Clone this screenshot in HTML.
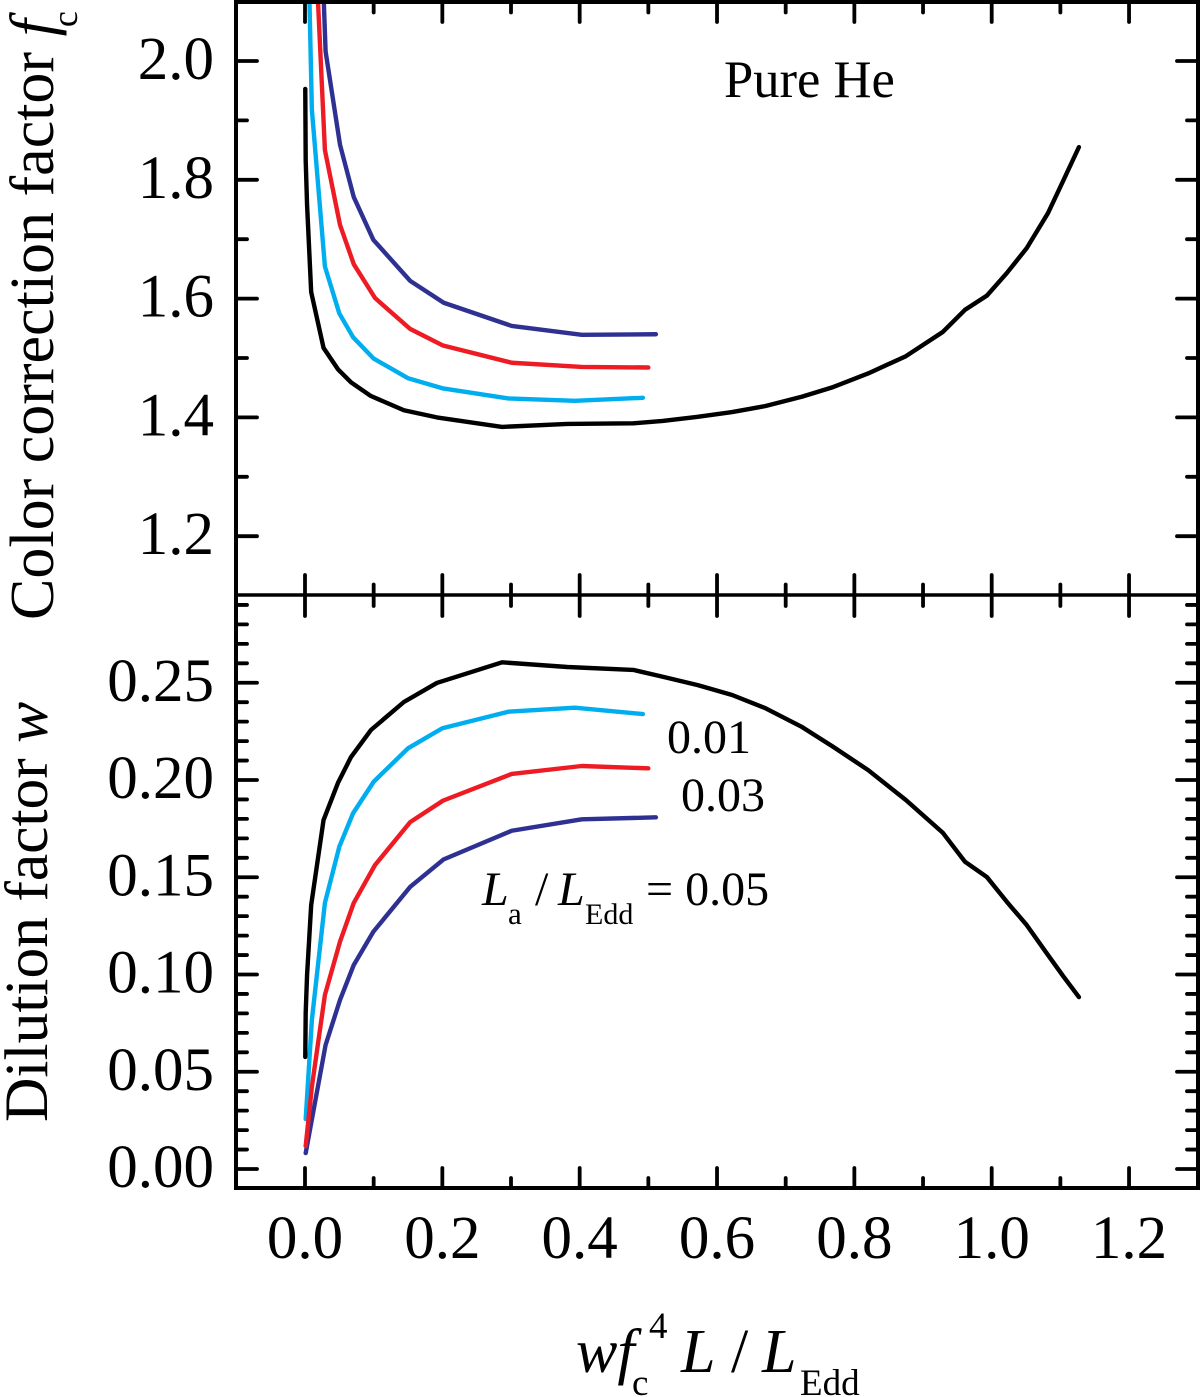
<!DOCTYPE html>
<html lang="en">
<head>
<meta charset="utf-8">
<title>Color correction and dilution factors, Pure He</title>
<style>
html,body{margin:0;padding:0;background:#fff;}
svg{display:block;}
text{font-family:"Liberation Serif",serif;fill:#000;}
</style>
</head>
<body>
<svg id="chart" xmlns="http://www.w3.org/2000/svg" width="1200" height="1397" viewBox="0 0 1200 1397">
  <defs>
    <clipPath id="clip-top"><rect x="236" y="0" width="962" height="595"></rect></clipPath>
    <clipPath id="clip-bottom"><rect x="236" y="595" width="962" height="593"></rect></clipPath>
  </defs>
  <g id="marks-top" clip-path="url(#clip-top)"></g>
  <g id="marks-bottom" clip-path="url(#clip-bottom)"></g>
  <g id="axes"></g>

  <text transform="translate(53,620) rotate(-90)" font-size="62">Color correction factor <tspan font-style="italic">f</tspan><tspan font-size="36" dy="24" dx="-8">c</tspan></text>
  <text transform="translate(47,1122) rotate(-90)" font-size="61.5">Dilution factor <tspan font-style="italic">w</tspan></text>

  <text x="724" y="97" font-size="52.6">Pure He</text>
  <text x="667" y="753" font-size="48">0.01</text>
  <text x="681" y="811" font-size="48">0.03</text>
  <g>
    <text x="482" y="905" font-size="48" font-style="italic">L</text>
    <text x="508" y="924" font-size="31">a</text>
    <text x="535" y="905" font-size="48">/</text>
    <text x="558" y="905" font-size="48" font-style="italic">L</text>
    <text x="585" y="924" font-size="30">Edd</text>
    <text x="646" y="905" font-size="48">= 0.05</text>
  </g>
  <g>
    <text x="576" y="1372" font-size="62" font-style="italic">wf</text>
    <text x="632" y="1395" font-size="37">c</text>
    <text x="649" y="1338" font-size="37">4</text>
    <text x="681" y="1372" font-size="62" font-style="italic">L</text>
    <text x="731" y="1372" font-size="62">/</text>
    <text x="762" y="1372" font-size="62" font-style="italic">L</text>
    <text x="800" y="1395" font-size="37">Edd</text>
  </g>
</svg>
<script>
// x axis ticks
var xMajorTicks = [0.0, 0.2, 0.4, 0.6, 0.8, 1.0, 1.2];
var xMinorTicks = [0.1, 0.3, 0.5, 0.7, 0.9, 1.1];
var xTickLabels = ['0.0', '0.2', '0.4', '0.6', '0.8', '1.0', '1.2'];

// top panel ticks
var fcMajorTicks = [2.0, 1.8, 1.6, 1.4, 1.2];
var fcMinorTicks = [1.9, 1.7, 1.5, 1.3];
var fcTickLabels = ['2.0', '1.8', '1.6', '1.4', '1.2'];

// bottom panel ticks
var wMajorTicks = [0.25, 0.20, 0.15, 0.10, 0.05, 0.00];
var wMinorTicks = [0.29, 0.28, 0.27, 0.26, 0.24, 0.23, 0.22, 0.21, 0.19, 0.18, 0.17, 0.16, 0.14, 0.13, 0.12, 0.11, 0.09, 0.08, 0.07, 0.06, 0.04, 0.03, 0.02, 0.01];
var wTickLabels = ['0.25', '0.20', '0.15', '0.10', '0.05', '0.00'];

// La/LEdd = 0 (black)
var blackX = [0.0004, 0.001, 0.003, 0.009, 0.027, 0.048, 0.067, 0.096, 0.144, 0.192, 0.287, 0.382, 0.478, 0.521, 0.572, 0.622, 0.670, 0.724, 0.769, 0.820, 0.875, 0.929, 0.961, 0.993, 1.022, 1.051, 1.082, 1.104, 1.127];
var blackFc = [1.953, 1.833, 1.758, 1.611, 1.517, 1.481, 1.459, 1.436, 1.412, 1.400, 1.384, 1.389, 1.390, 1.394, 1.401, 1.409, 1.419, 1.435, 1.451, 1.474, 1.503, 1.544, 1.581, 1.605, 1.643, 1.685, 1.744, 1.798, 1.855];
var blackW = [0.0576, 0.0802, 0.0997, 0.1357, 0.1794, 0.1985, 0.2118, 0.2257, 0.2401, 0.2499, 0.2605, 0.2581, 0.2566, 0.2531, 0.2488, 0.2437, 0.2370, 0.2272, 0.2171, 0.2051, 0.1897, 0.1728, 0.1580, 0.1501, 0.1374, 0.1254, 0.1100, 0.0992, 0.0884];

// La/LEdd = 0.01 (cyan)
var cyanX = [0.001, 0.010, 0.029, 0.050, 0.070, 0.100, 0.150, 0.200, 0.296, 0.393, 0.492];
var cyanFc = [2.389, 1.918, 1.654, 1.575, 1.535, 1.499, 1.466, 1.449, 1.432, 1.428, 1.433];
var cyanW = [0.0257, 0.0766, 0.1368, 0.1657, 0.1829, 0.1991, 0.2163, 0.2266, 0.2351, 0.2372, 0.2339];

// La/LEdd = 0.03 (red)
var redX = [0.001, 0.010, 0.029, 0.051, 0.071, 0.102, 0.153, 0.201, 0.301, 0.403, 0.500];
var redFc = [2.776, 2.322, 1.850, 1.724, 1.658, 1.601, 1.549, 1.521, 1.492, 1.485, 1.484];
var redW = [0.0118, 0.0423, 0.0895, 0.1169, 0.1368, 0.1563, 0.1783, 0.1894, 0.2031, 0.2072, 0.2060];

// La/LEdd = 0.05 (navy)
var navyX = [0.001, 0.030, 0.051, 0.071, 0.0995, 0.153, 0.202, 0.301, 0.403, 0.511];
var navyFc = [2.944, 2.016, 1.859, 1.771, 1.699, 1.630, 1.593, 1.554, 1.539, 1.540];
var navyW = [0.0082, 0.0638, 0.0869, 0.1049, 0.1220, 0.1450, 0.1592, 0.1739, 0.1798, 0.1808];

var SVG_NS = 'http://www.w3.org/2000/svg';
var FRAME_LEFT = 236, FRAME_RIGHT = 1198, FRAME_TOP = 2, FRAME_MID = 595, FRAME_BOTTOM = 1188;

function xScale(v) { return 305 + v * 686.7; }
function fcScale(v) { return 61 + (2 - v) * 594; }
function wScale(v) { return 1169 - v * 1945; }

function make(tag, attrs, parent) {
  var node = document.createElementNS(SVG_NS, tag);
  for (var key in attrs) { node.setAttribute(key, attrs[key]); }
  parent.appendChild(node);
  return node;
}

function drawSeries(parent, xs, ys, yScale, color, name) {
  var pts = xs.map(function (x, i) {
    return xScale(x).toFixed(2) + ',' + yScale(ys[i]).toFixed(2);
  }).join(' ');
  var line = make('polyline', {
    points: pts, fill: 'none', stroke: color, 'stroke-width': 4.4,
    'stroke-linecap': 'round', 'stroke-linejoin': 'round'
  }, parent);
  
  
}

var marksTop = document.getElementById('marks-top');
var marksBottom = document.getElementById('marks-bottom');
var axes = document.getElementById('axes');

drawSeries(marksTop, blackX, blackFc, fcScale, '#000000', 'fc-line-0-00');
drawSeries(marksTop, navyX, navyFc, fcScale, '#2e3192', 'fc-line-0-05');
drawSeries(marksTop, cyanX, cyanFc, fcScale, '#00aeef', 'fc-line-0-01');
drawSeries(marksTop, redX, redFc, fcScale, '#ed1c24', 'fc-line-0-03');

drawSeries(marksBottom, blackX, blackW, wScale, '#000000', 'w-line-0-00');
drawSeries(marksBottom, navyX, navyW, wScale, '#2e3192', 'w-line-0-05');
drawSeries(marksBottom, cyanX, cyanW, wScale, '#00aeef', 'w-line-0-01');
drawSeries(marksBottom, redX, redW, wScale, '#ed1c24', 'w-line-0-03');

function tickLine(x1, y1, x2, y2, name) {
  var t = make('line', {
    x1: x1, y1: y1, x2: x2, y2: y2, stroke: '#000', 'stroke-width': 3.8, 'stroke-linecap': 'round'
  }, axes);
  
  
}

xMajorTicks.forEach(function (v) {
  var px = xScale(v);
  tickLine(px, FRAME_TOP, px, 22, 'x-tick-major-top');
  tickLine(px, 575, px, 616, 'x-tick-major-middle');
  tickLine(px, 1168, px, FRAME_BOTTOM, 'x-tick-major-bottom');
});
xMinorTicks.forEach(function (v) {
  var px = xScale(v);
  tickLine(px, FRAME_TOP, px, 12.5, 'x-tick-minor-top');
  tickLine(px, 584.5, px, 606, 'x-tick-minor-middle');
  tickLine(px, 1178, px, FRAME_BOTTOM, 'x-tick-minor-bottom');
});

function yTicks(values, scale, length, name) {
  values.forEach(function (v) {
    var py = scale(v);
    tickLine(FRAME_LEFT, py, FRAME_LEFT + length, py, name + '-left');
    tickLine(FRAME_RIGHT - length, py, FRAME_RIGHT, py, name + '-right');
  });
}
yTicks(fcMajorTicks, fcScale, 21, 'fc-tick-major');
yTicks(fcMinorTicks, fcScale, 11, 'fc-tick-minor');
yTicks(wMajorTicks, wScale, 21, 'w-tick-major');
yTicks(wMinorTicks, wScale, 11, 'w-tick-minor');

var frame = make('rect', {
  x: FRAME_LEFT, y: FRAME_TOP, width: FRAME_RIGHT - FRAME_LEFT, height: FRAME_BOTTOM - FRAME_TOP,
  fill: 'none', stroke: '#000', 'stroke-width': 4
}, axes);



var divider = make('line', {
  x1: FRAME_LEFT, y1: FRAME_MID, x2: FRAME_RIGHT, y2: FRAME_MID, stroke: '#000', 'stroke-width': 3.6
}, axes);



function label(x, y, anchor, str, name) {
  var t = make('text', { x: x, y: y, 'text-anchor': anchor, 'font-size': 61 }, axes);
  t.textContent = str;
  
  
}
xMajorTicks.forEach(function (v, i) {
  label(xScale(v), 1258, 'middle', xTickLabels[i], 'x-tick-label');
});
fcMajorTicks.forEach(function (v, i) {
  label(214, fcScale(v) + 18, 'end', fcTickLabels[i], 'fc-tick-label');
});
wMajorTicks.forEach(function (v, i) {
  label(214, wScale(v) + 18, 'end', wTickLabels[i], 'w-tick-label');
});
</script>
</body>
</html>
